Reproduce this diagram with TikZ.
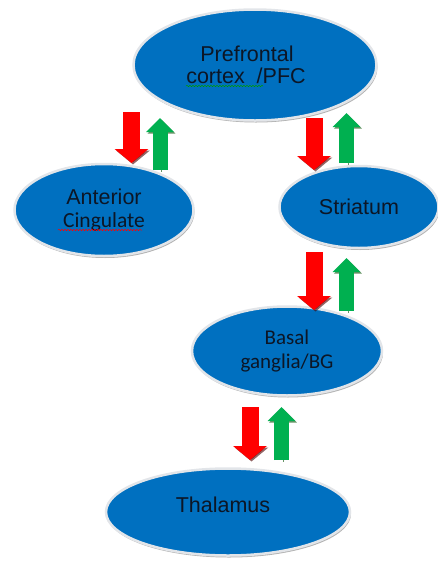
\documentclass[tikz,border=0pt]{standalone}
\usepackage{fontspec}
\setmainfont{Liberation Sans}
\newfontfamily\calibri{Carlito}
\usepackage{tikz}
\usetikzlibrary{arrows.meta, shapes, shadows, decorations.pathmorphing}
\definecolor{ovalblue}{RGB}{0,112,192}
\definecolor{rimgray}{RGB}{226,229,233}
\definecolor{labelink}{RGB}{12,22,38}
\definecolor{downred}{RGB}{255,0,0}
\definecolor{upgreen}{RGB}{0,176,80}

\begin{document}
\begin{tikzpicture}[x=1pt, y=-1pt,
		region/.style={ellipse, fill=ovalblue, draw=rimgray, line width=2.5pt, inner sep=0pt,
			text=labelink, align=center, font=\fontsize{21.5}{22.5}\selectfont,
			drop shadow={shadow xshift=1pt, shadow yshift=-2pt, fill=black, opacity=0.3}},
		flowdown/.style={draw=downred, line width=17pt, -{Triangle[width=33pt, length=14pt]},
			preaction={draw=black!70!red, opacity=0.6, transform canvas={shift={(1.5pt,-1.5pt)}}}},
		flowup/.style={draw=upgreen, line width=15pt, -{Triangle[width=27pt, length=14pt]},
			preaction={draw=black!70!green, opacity=0.6, transform canvas={shift={(1.5pt,-1.5pt)}}}},
		squiggle/.style={decorate, decoration={snake, amplitude=0.7pt, segment length=3pt}, line width=0.5pt}
		]
	\useasboundingbox (0,0) rectangle (438,563);

	% --- Regions ---
	\node[region, minimum width=243pt, minimum height=111pt] (PFC) at (255,65) {\hspace*{-16pt}Prefrontal\\\hspace*{-18pt}cortex\ \ /PFC};
	\node[region, minimum width=179pt, minimum height=92pt] (AC) at (104,210) {Anterior\\{\calibri Cingulate}};
	\node[region, minimum width=159pt, minimum height=82pt] (STR) at (359,207) {Striatum};
	\node[region, minimum width=190pt, minimum height=89pt, font=\calibri\fontsize{21}{24}\selectfont] (BG) at (287,351) {Basal\\ganglia/BG};
	\node[region, minimum width=244pt, minimum height=87pt] (TH) at (228,512) {\hspace*{-10pt}Thalamus\\[-8pt]};

	% Soulignements
	\draw[squiggle, draw=green!60!black] (186,86) -- (263,86);
	\draw[squiggle, draw=red] (58,230) -- (142,230);

	% --- Arrow end points ---
	\coordinate (ac-in) at (131.5,112);   \coordinate (ac-tip) at (131.5,163);
	\coordinate (ac-out) at (160,170);    \coordinate (pfc-tip1) at (160,118);
	\coordinate (str-in) at (314,118);    \coordinate (str-tip) at (314,170);
	\coordinate (str-out) at (346.5,163); \coordinate (pfc-tip2) at (346.5,113);
	\coordinate (bg-in) at (314,252);     \coordinate (bg-tip) at (314,310);
	\coordinate (bg-out) at (346.5,311);  \coordinate (str-tip2) at (346.5,258);
	\coordinate (th-in) at (250,407);     \coordinate (th-tip) at (250,460);
	\coordinate (th-out) at (281.5,460);  \coordinate (bg-tip2) at (281.5,407);

	% Fleches rouges (descendantes)
	\draw[flowdown] (ac-in) -- (ac-tip);
	\draw[flowdown] (str-in) -- (str-tip);
	\draw[flowdown] (bg-in) -- (bg-tip);
	\draw[flowdown] (th-in) -- (th-tip);

	% Fleches vertes (montantes)
	\draw[flowup] (ac-out) -- (pfc-tip1);
	\draw[flowup] (str-out) -- (pfc-tip2);
	\draw[flowup] (bg-out) -- (str-tip2);
	\draw[flowup] (th-out) -- (bg-tip2);

\end{tikzpicture}
\end{document}
